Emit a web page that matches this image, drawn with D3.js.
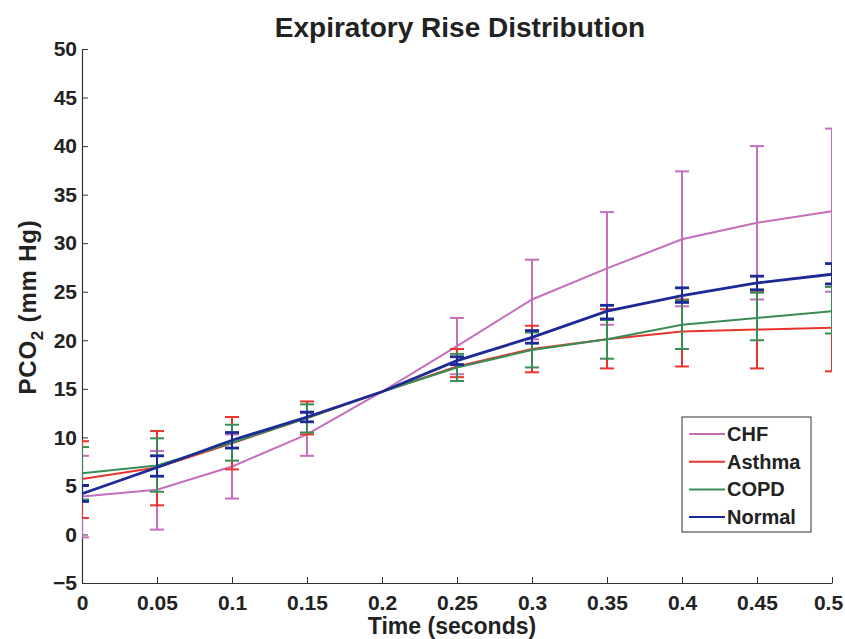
<!DOCTYPE html>
<html>
<head>
<meta charset="utf-8">
<script src="https://cdn.jsdelivr.net/npm/d3@7"></script>
<style>
  html, body { margin: 0; padding: 0; background: #fff; }
  svg { display: block; font-family: "Liberation Sans", Arial, Helvetica, sans-serif; }
</style>
</head>
<body>
<svg id="chart" width="845" height="639"></svg>
<script>
// ---- data ----
const time = [0, 0.05, 0.1, 0.15, 0.2, 0.25, 0.3, 0.35, 0.4, 0.45, 0.5];
const seriesNames = ["CHF", "Asthma", "COPD", "Normal"];
const seriesColors = ["#c46ebc", "#e8342c", "#3a8c55", "#1c2a96"];

const chfMean  = [3.9, 4.6, 7.0, 10.3, 14.7, 19.4, 24.2, 27.4, 30.4, 32.1, 33.3];
const chfLow   = [-0.3, 0.5, 3.7, 8.1, 14.7, 16.5, 20.1, 21.6, 23.5, 24.2, 25.0];
const chfHigh  = [8.1, 8.6, 10.3, 12.5, 14.7, 22.3, 28.3, 33.2, 37.4, 40.0, 41.8];

const asthmaMean = [5.7, 6.9, 9.4, 12.0, 14.7, 17.3, 19.1, 20.1, 20.9, 21.1, 21.3];
const asthmaLow  = [1.7, 3.0, 6.7, 10.3, 14.7, 16.2, 16.7, 17.1, 17.3, 17.1, 16.8];
const asthmaHigh = [9.6, 10.65, 12.1, 13.7, 14.7, 19.1, 21.5, 23.2, 24.2, 25.1, 25.8];

const copdMean = [6.3, 7.1, 9.45, 12.0, 14.7, 17.2, 19.0, 20.1, 21.6, 22.3, 23.0];
const copdLow  = [3.6, 4.4, 7.6, 10.5, 14.7, 15.8, 17.2, 18.1, 19.1, 20.0, 20.7];
const copdHigh = [9.0, 9.9, 11.3, 13.4, 14.7, 18.6, 20.8, 22.1, 24.1, 24.9, 25.5];

const normalMean = [4.2, 6.9, 9.7, 12.1, 14.7, 17.9, 20.3, 23.0, 24.6, 25.9, 26.8];
const normalLow  = [3.4, 6.0, 8.9, 11.6, 14.7, 17.5, 19.7, 22.2, 23.9, 25.2, 25.8];
const normalHigh = [5.05, 8.1, 10.5, 12.6, 14.7, 18.3, 21.0, 23.6, 25.4, 26.6, 27.9];

const xTicks = [0, 0.05, 0.1, 0.15, 0.2, 0.25, 0.3, 0.35, 0.4, 0.45, 0.5];
const yTicks = [-5, 0, 5, 10, 15, 20, 25, 30, 35, 40, 45, 50];

// ---- build ----
const series = [
  {name: seriesNames[0], color: seriesColors[0], mean: chfMean, lo: chfLow, hi: chfHigh, w: 2},
  {name: seriesNames[1], color: seriesColors[1], mean: asthmaMean, lo: asthmaLow, hi: asthmaHigh, w: 2},
  {name: seriesNames[2], color: seriesColors[2], mean: copdMean, lo: copdLow, hi: copdHigh, w: 2},
  {name: seriesNames[3], color: seriesColors[3], mean: normalMean, lo: normalLow, hi: normalHigh, w: 2.8}
];

const svg = d3.select("#chart");
const x = d3.scaleLinear().domain([0, 0.5]).range([82, 832]);
const y = d3.scaleLinear().domain([-5, 50]).range([583, 49]);

svg.append("defs").append("clipPath").attr("id", "plotclip")
  .append("rect").attr("x", x(0)).attr("y", 0).attr("width", x(0.5) - x(0)).attr("height", 639);

const fmtX = d => d === 0 ? "0" : String(+d.toFixed(2));
const fmtY = d => d < 0 ? "\u2212" + Math.abs(d) : String(d);
const FONT = "'Liberation Sans', Arial, sans-serif";

// axes
const xAxis = d3.axisBottom(x).tickValues(xTicks).tickSizeInner(-6).tickSizeOuter(0)
  .tickPadding(12).tickFormat(fmtX);
const gx = svg.append("g").attr("transform", `translate(0,${y(-5)})`).call(xAxis);
gx.select(".domain").attr("stroke", "#333").attr("stroke-width", 1.2);
gx.selectAll(".tick line").attr("stroke", "#333").attr("stroke-width", 1);
gx.selectAll(".tick text").attr("font-size", 21).attr("font-weight", "bold").attr("fill", "#222")
  .attr("font-family", FONT);
// keep the last label inside the picture
gx.selectAll(".tick text").filter(d => d === 0.5).attr("dx", -4);

const yAxis = d3.axisLeft(y).tickValues(yTicks).tickSizeInner(-6).tickSizeOuter(0)
  .tickPadding(5).tickFormat(fmtY);
const gy = svg.append("g").attr("transform", `translate(${x(0)},0)`).call(yAxis);
gy.select(".domain").attr("stroke", "#333").attr("stroke-width", 1.2);
gy.selectAll(".tick line").attr("stroke", "#333").attr("stroke-width", 1);
gy.selectAll(".tick text").attr("font-size", 21).attr("font-weight", "bold").attr("fill", "#222")
  .attr("font-family", FONT);

// data layers
const plot = svg.append("g").attr("clip-path", "url(#plotclip)");
const line = d3.line().x(d => x(d.t)).y(d => y(d.m));
const capW = 7;

series.forEach(s => {
  const pts = time.map((t, i) => ({t, m: s.mean[i], lo: s.lo[i], hi: s.hi[i]}));
  const g = plot.append("g");
  g.append("path").datum(pts).attr("d", line).attr("fill", "none")
    .attr("stroke", s.color).attr("stroke-width", s.w);
  const eb = g.selectAll(".eb").data(pts.filter(p => p.hi - p.lo > 0.01)).enter().append("g");
  eb.append("line").attr("x1", d => x(d.t)).attr("x2", d => x(d.t))
    .attr("y1", d => y(d.lo)).attr("y2", d => y(d.hi))
    .attr("stroke", s.color).attr("stroke-width", 2);
  ["lo", "hi"].forEach(k => {
    eb.append("line").attr("x1", d => x(d.t) - capW).attr("x2", d => x(d.t) + capW)
      .attr("y1", d => y(d[k])).attr("y2", d => y(d[k]))
      .attr("stroke", s.color).attr("stroke-width", s.w);
  });
});

// title
svg.append("text").attr("x", 460).attr("y", 37).attr("text-anchor", "middle")
  .attr("font-size", 28).attr("font-weight", "bold").attr("fill", "#222")
  .text("Expiratory Rise Distribution");

// x label
svg.append("text").attr("x", 452).attr("y", 634).attr("text-anchor", "middle")
  .attr("font-size", 23).attr("font-weight", "bold").attr("fill", "#222")
  .text("Time (seconds)");

// y label
const yl = svg.append("text").attr("transform", "translate(36,307) rotate(-90)")
  .attr("text-anchor", "middle").attr("font-size", 24).attr("font-weight", "bold")
  .attr("letter-spacing", 0.8).attr("fill", "#222");
yl.append("tspan").text("PCO");
yl.append("tspan").attr("font-size", 17).attr("dy", 7).text("2");
yl.append("tspan").attr("dy", -7).text(" (mm Hg)");

// legend
const lg = svg.append("g");
lg.append("rect").attr("x", 682).attr("y", 417).attr("width", 129).attr("height", 115)
  .attr("fill", "#fff").attr("stroke", "#333").attr("stroke-width", 1);
series.forEach((s, i) => {
  const yy = 434 + i * 27.7;
  lg.append("line").attr("x1", 689).attr("x2", 725).attr("y1", yy).attr("y2", yy)
    .attr("stroke", s.color).attr("stroke-width", 2);
  lg.append("text").attr("x", 727).attr("y", yy + 7).attr("font-size", 20)
    .attr("font-weight", "bold").attr("fill", "#222").text(s.name);
});
</script>
</body>
</html>
